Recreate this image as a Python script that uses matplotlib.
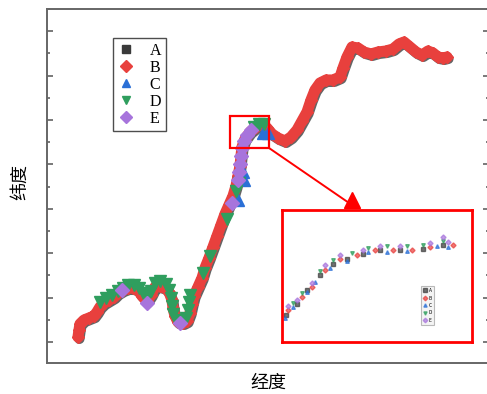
import numpy as np
import matplotlib
matplotlib.use("Agg")
import matplotlib.pyplot as plt
from matplotlib.lines import Line2D
from matplotlib.patches import Rectangle
from matplotlib.ticker import MultipleLocator
import matplotlib.transforms as mtransforms

plt.rcParams['font.family'] = ['Noto Sans CJK SC', 'DejaVu Sans']

# main track (shared by A and B), plot units
track_lon = [31, 32, 33, 37, 42, 47, 50, 53, 57, 62, 67, 71, 76, 81, 86, 91, 95, 100,
             104, 108, 113, 118, 122, 125, 126, 128, 131, 136, 140, 143, 145, 147, 151,
             155, 158, 162, 166, 170, 174, 178, 182, 186, 189, 191, 193, 194, 195, 198,
             203, 209, 215, 220, 225, 231, 238, 244, 250, 255, 260, 264, 268, 273, 279,
             286, 293, 296, 300, 305, 311, 317, 324, 331, 339, 346, 352, 357, 363, 369,
             375, 381, 386, 391, 396, 400]
track_lat = [5, 12, 18, 22, 24, 26, 30, 35, 39, 42, 45, 49, 52, 54, 54, 52, 46, 41,
             47, 55, 56, 54, 50, 42, 34, 26, 20, 19, 21, 29, 38, 46, 55,
             64, 74, 84, 95, 106, 117, 128, 137, 146, 156, 166, 176, 186, 195, 203,
             210, 215, 218, 214, 208, 204, 201, 205, 212, 221, 230, 242, 252, 259, 262,
             262, 265, 274, 285, 295, 294, 290, 288, 290, 291, 293, 298, 300, 295, 290,
             287, 291, 289, 285, 284, 285]

c_lon = [191, 197, 196, 216, 221]
c_lat = [142, 162, 170, 209, 209]

d_lon = [53, 59, 65, 71, 76, 81, 87, 92, 96, 100, 104, 108, 113, 119, 122, 124, 125,
         126, 129, 134, 139, 141, 142, 143, 156, 163, 180, 189, 192, 207, 212, 217]
d_lat = [40, 44, 47, 51, 54, 57, 57, 54, 49, 45, 51, 59, 61, 58, 52, 44, 36,
         28, 22, 20, 24, 32, 40, 47, 69, 86, 123, 151, 159, 215, 218, 218]

e_lon = [75, 100, 133, 185, 191, 192, 193, 194, 195, 197, 200, 204]
e_lat = [52, 39, 19, 139, 162, 170, 178, 186, 194, 201, 207, 212]

# zoomed view around the turning point
ia_lon = [4, 15, 25, 38, 51, 65, 81, 98, 118, 141, 161]
ia_lat = [27, 38, 52, 67, 78, 83, 88, 92, 92, 93, 97]
ib_lon = [6, 20, 30, 43, 58, 75, 93, 111, 130, 148, 171]
ib_lat = [32, 45, 55, 72, 83, 87, 92, 92, 92, 95, 97]
ic_lon = [3, 11, 25, 33, 48, 65, 86, 105, 125, 155, 166]
ic_lat = [24, 35, 50, 60, 74, 81, 90, 90, 91, 96, 95]
id_lon = [11, 20, 38, 51, 70, 86, 105, 125, 141, 161]
id_lat = [39, 49, 71, 82, 89, 94, 96, 96, 97, 101]
ie_lon = [6, 15, 30, 43, 58, 81, 98, 118, 148, 166, 161]
ie_lat = [36, 42, 59, 77, 87, 92, 96, 96, 99, 100, 105]

labels = ['A', 'B', 'C', 'D', 'E']
colors = ['#3a3a3a', '#e8403d', '#2a6fd6', '#2f9e5e', '#a774dc']
markers = ['s', 'D', '^', 'v', 'D']

zoom_box = (183, 222, 194, 226)

fig = plt.figure(figsize=(4.87, 3.94), dpi=100)
ax = fig.add_axes([47 / 487, 31 / 394, 442 / 487, 354 / 394])

shadow = ax.transData + mtransforms.ScaledTranslation(1.0 / 72, -1.3 / 72, fig.dpi_scale_trans)
ax.plot(track_lon, track_lat, color='#4a4a4a', lw=7.5, solid_capstyle='round',
        solid_joinstyle='round', transform=shadow, zorder=2, alpha=0.85)
ax.plot(track_lon, track_lat, color=colors[1], lw=8, solid_capstyle='round',
        solid_joinstyle='round', zorder=3)
ax.plot(track_lon, track_lat, ls='none', color=colors[1], marker='D', ms=6.5, zorder=3)
ax.plot(c_lon, c_lat, ls='none', color=colors[2], marker='^', ms=8.5, zorder=4)
ax.plot(d_lon, d_lat, ls='none', color=colors[3], marker='v', ms=9, zorder=5)
ax.plot(e_lon, e_lat, ls='none', color=colors[4], marker='D', ms=7.5, zorder=6)

ax.set_xlim(0, 442)
ax.set_ylim(-21, 333)
ax.yaxis.set_major_locator(MultipleLocator(44.4))
ax.yaxis.set_minor_locator(MultipleLocator(22.2))
ax.set_xticks([])
ax.tick_params(axis='y', which='both', direction='in', left=True, right=True,
               labelleft=False, color='#555555', width=1.1)
ax.tick_params(axis='y', which='major', length=4.5)
ax.tick_params(axis='y', which='minor', length=2.2)
for s in ax.spines.values():
    s.set_color('#666666')
    s.set_linewidth(1.4)

handles = [Line2D([], [], ls='none', marker=m, color=c, ms=6) for m, c in zip(markers, colors)]
leg = ax.legend(handles, labels, loc='upper left', bbox_to_anchor=(0.149, 0.918),
                prop={'family': 'Liberation Serif', 'size': 11.5}, frameon=True,
                fancybox=False, edgecolor='#222222', labelspacing=0.06,
                handlelength=1.0, handletextpad=1.0, borderpad=0.3, borderaxespad=0)
leg.get_frame().set_linewidth(1.0)

# zoom marker and arrow to the inset
x0, x1, y0, y1 = zoom_box
ax.add_patch(Rectangle((x0, y0), x1 - x0, y1 - y0, fill=False, ec='red', lw=1.6, zorder=8))
ax.plot([x1, 305], [y0, 137], color='red', lw=1.4, zorder=8)
ax.plot([305], [142], ls='none', marker='^', ms=11, color='red', zorder=9)

axin = fig.add_axes([282 / 487, 52 / 394, 190 / 487, 132 / 394])
for lon, lat, c, m, lab in zip([ia_lon, ib_lon, ic_lon, id_lon, ie_lon],
                               [ia_lat, ib_lat, ic_lat, id_lat, ie_lat],
                               colors, markers, labels):
    axin.plot(lon, lat, ls='none', marker=m, ms=2.6, color=c, alpha=0.7, label=lab)
axin.set_xlim(0, 190)
axin.set_ylim(0, 132)
axin.set_xticks([])
axin.set_yticks([])
for s in axin.spines.values():
    s.set_color('red')
    s.set_linewidth(2.0)
ileg = axin.legend(loc='lower left', bbox_to_anchor=(0.73, 0.13), fontsize=3.5,
                   frameon=True, fancybox=False, edgecolor='#aaaaaa', facecolor='#f2f2f2',
                   labelspacing=0.5, handlelength=0.8, handletextpad=0.5,
                   borderpad=0.4, borderaxespad=0, markerscale=0.9)
ileg.get_frame().set_linewidth(0.8)

fig.text(268 / 487, 1 - 383 / 394, '经度', ha='center', va='center', fontsize=13)
fig.text(20 / 487, 1 - 182 / 394, '纬度', ha='center', va='center', fontsize=13,
         rotation=90)

fig.savefig('out.png', dpi=100)
